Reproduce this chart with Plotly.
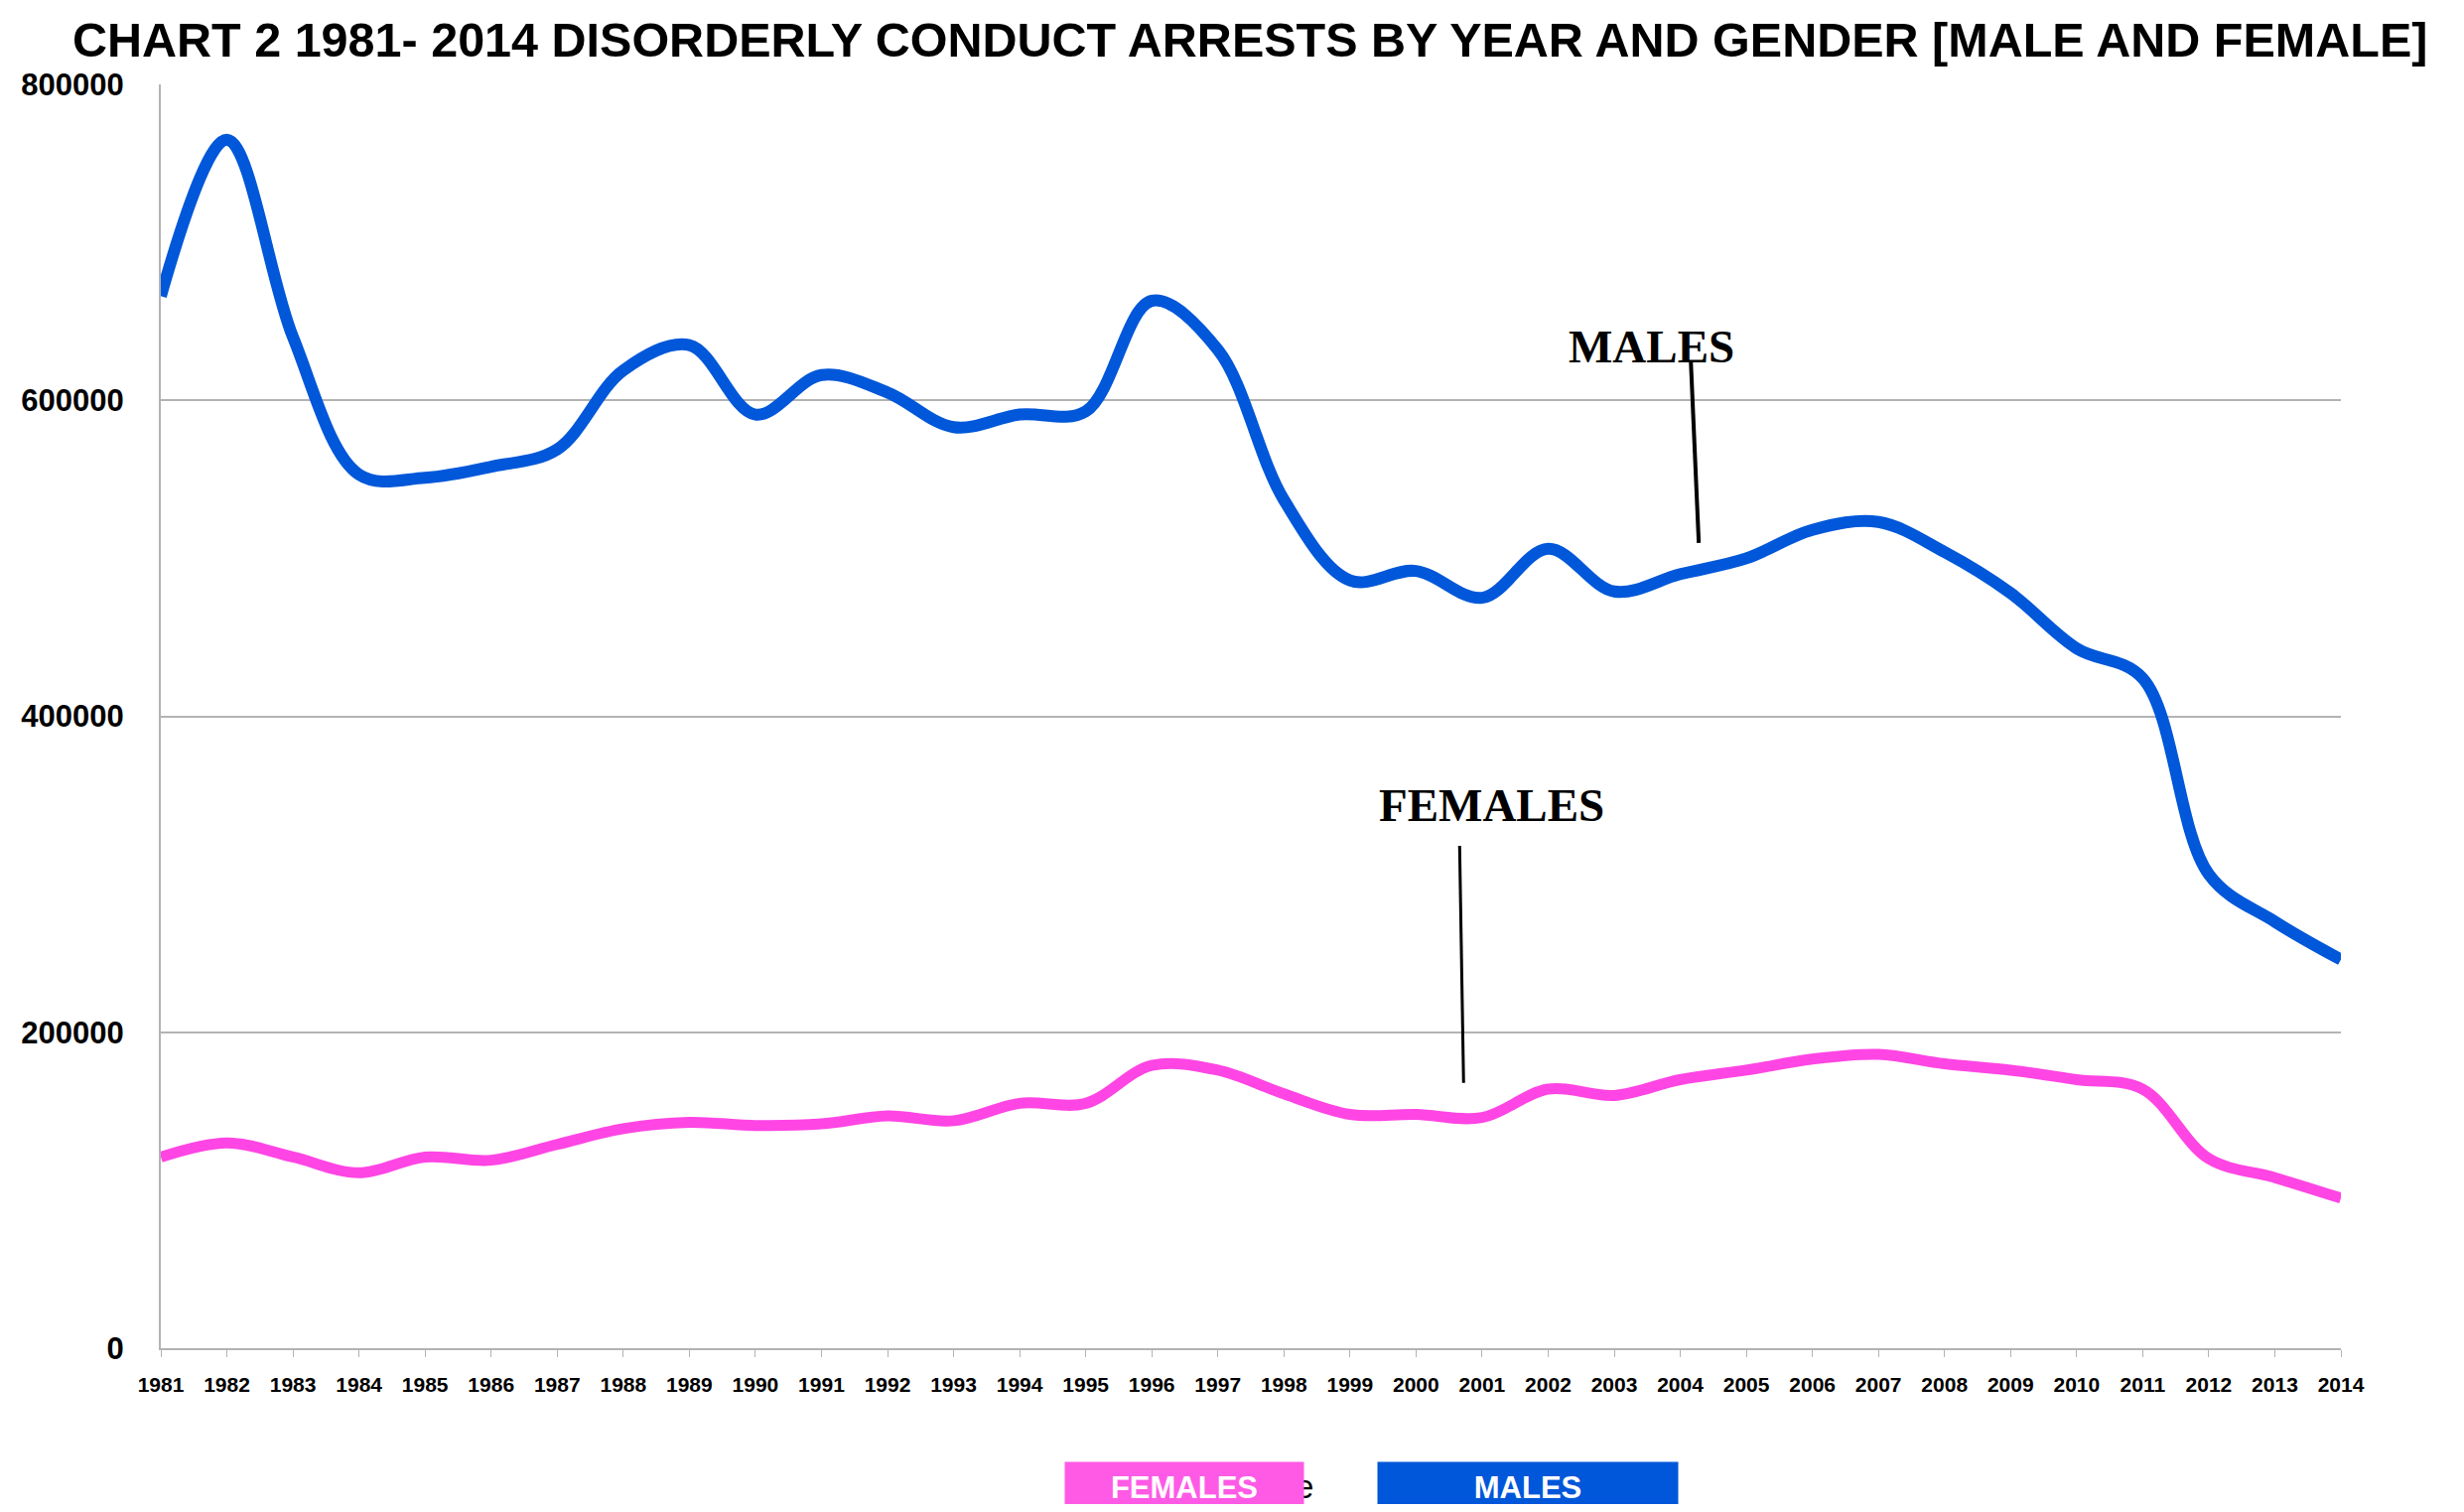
import plotly.graph_objects as go

years = list(range(1981, 2015))
males = [666000, 765000, 640000, 553000, 551000, 558000, 569000, 619000, 635000, 591000,
         616000, 605000, 583000, 591000, 593000, 663000, 632000, 537000, 486000, 492000,
         475000, 506000, 479000, 490000, 500000, 518000, 523000, 504000, 478000, 443000,
         424000, 300000, 270000, 246000]
females = [121000, 130000, 121000, 111000, 121000, 119000, 129000, 139000, 143000, 141000,
           142000, 147000, 144000, 155000, 155000, 179000, 176000, 161000, 148000, 148000,
           146000, 164000, 160000, 170000, 176000, 183000, 186000, 180000, 176000, 170000,
           164000, 120000, 108000, 95000]
y_ticks = [0, 200000, 400000, 600000, 800000]
title_text = "CHART 2 1981- 2014 DISORDERLY CONDUCT ARRESTS BY YEAR AND GENDER [MALE AND FEMALE]"

BLUE = "#0057D9"
PINK = "#FF45E4"
OFF = 8  # default body margin of the html page
W, H = 2482 - 2 * OFF, 1523 - 2 * OFF
L, T = 162 - OFF, 85 - OFF
R = W - (2358 - OFF)
B = H - (1358 - OFF)
PW, PH = W - L - R, H - T - B

def px_x(px):
    return (px - OFF - L) / PW

def px_y(py):
    return (H - B - (py - OFF)) / PH

fig = go.Figure()
fig.add_trace(go.Scatter(x=years, y=males, mode="lines", name="MALES",
                         line=dict(color=BLUE, width=12, shape="spline", smoothing=1)))
fig.add_trace(go.Scatter(x=years, y=females, mode="lines", name="FEMALES",
                         line=dict(color=PINK, width=11, shape="spline", smoothing=1)))

serif = dict(family="Liberation Serif, Times New Roman, serif", size=47, color="black")
box_font = dict(family="Liberation Sans, Arial", size=31, color="white")
box_h = (1523 - OFF) - 1472
ann = []
ann.append(dict(x=px_x(1259), y=px_y(12), xref="paper", yref="paper",
                text=f"<b>{title_text}</b>", borderpad=0,
                showarrow=False, xanchor="center", yanchor="top",
                font=dict(family="Liberation Sans, Arial", size=48.5, color="black")))
ann.append(dict(x=2002.28, y=634000, xref="x", yref="y", text="<b>MALES</b>",
                showarrow=False, xanchor="left", yanchor="middle", font=serif))
ann.append(dict(x=1999.41, y=344000, xref="x", yref="y", text="<b>FEMALES</b>",
                showarrow=False, xanchor="left", yanchor="middle", font=serif))
ann.append(dict(x=px_x(1303), y=px_y(1497), xref="paper", yref="paper", text="e",
                showarrow=False, xanchor="left", yanchor="middle",
                font=dict(family="Liberation Sans, Arial", size=33, color="black")))
ann.append(dict(x=px_x(1072), y=px_y(1472), xref="paper", yref="paper", text="<b>FEMALES</b>",
                showarrow=False, xanchor="left", yanchor="top", width=240, height=box_h,
                bgcolor="#FF5AE6", borderpad=0, align="center", valign="bottom",
                font=box_font))
ann.append(dict(x=px_x(1387), y=px_y(1472), xref="paper", yref="paper", text="<b>MALES</b>",
                showarrow=False, xanchor="left", yanchor="top", width=302, height=box_h,
                bgcolor=BLUE, borderpad=0, align="center", valign="bottom",
                font=box_font))

shapes = [
    dict(type="line", xref="x", yref="y", x0=2004.16, y0=624700, x1=2004.28, y1=509700,
         line=dict(color="black", width=4)),
    dict(type="line", xref="x", yref="y", x0=2000.66, y0=318000, x1=2000.72, y1=168000,
         line=dict(color="black", width=3)),
]

fig.update_layout(
    width=W, height=H,
    margin=dict(l=L, r=R, t=T, b=B, pad=0),
    paper_bgcolor="white", plot_bgcolor="white",
    showlegend=False,
    annotations=ann,
    shapes=shapes,
    xaxis=dict(range=[1981, 2014], tickmode="array", tickvals=years,
               ticktext=[f"<b>{y}</b>" for y in years],
               tickfont=dict(family="Liberation Sans, Arial", size=21, color="black"),
               showgrid=False, showline=True, linecolor="#b3b3b3", linewidth=2,
               ticks="outside", ticklen=7, tickcolor="#b3b3b3", tickwidth=1,
               ticklabelstandoff=10, zeroline=False),
    yaxis=dict(range=[0, 800000], tickmode="array", tickvals=y_ticks,
               ticktext=[f"<b>{v}</b>" for v in y_ticks],
               tickfont=dict(family="Liberation Sans, Arial", size=31, color="black"),
               showgrid=True, gridcolor="#b3b3b3", gridwidth=2,
               showline=True, linecolor="#b3b3b3", linewidth=2,
               ticks="", ticklabelstandoff=29, zeroline=False),
)

fig.write_html("out.html")
